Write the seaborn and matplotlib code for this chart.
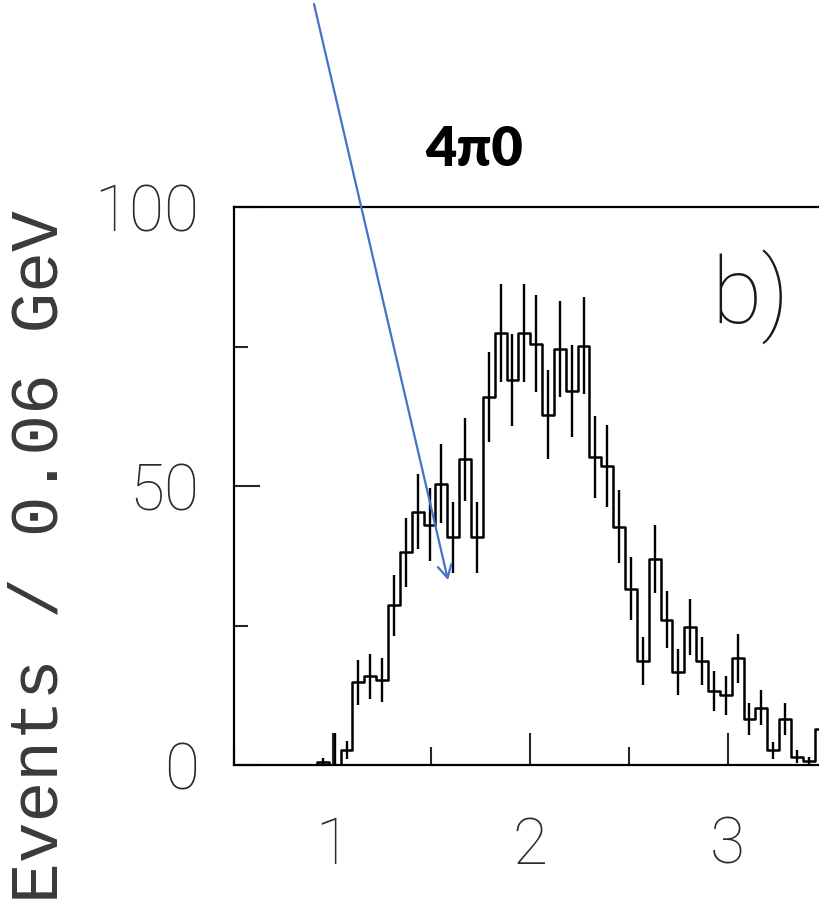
import numpy as np
import pandas as pd
import matplotlib
matplotlib.use("Agg")
import matplotlib.pyplot as plt
from matplotlib.ticker import MultipleLocator, FixedLocator
import seaborn as sns

# Histogram binning (GeV)
bin_start = 0.5
bin_width = 0.06

# Events per 0.06 GeV bin
counts = [0, 0, 0, 0, 0, 0, 0, 0.5, 0, 2.7,
          14.8, 15.9, 15.2, 28.6, 38.1, 45.4, 43.1, 50.4, 40.8, 54.8,
          40.8, 66.0, 77.4, 69.0, 77.4, 75.5, 62.8, 74.6, 67.0, 75.1,
          55.2, 53.6, 42.7, 31.6, 18.6, 36.9, 26.0, 16.6, 24.8, 18.6,
          13.3, 12.5, 19.1, 8.2, 10.3, 2.6, 8.2, 1.5, 0.7, 6.4]

# Statistical uncertainty per bin
errors = [0, 0, 0, 0, 0, 0, 0, 0.7, 5.8, 1.6,
          4.0, 4.0, 3.9, 5.4, 6.2, 6.7, 6.6, 7.1, 6.4, 7.4,
          6.4, 8.1, 8.8, 8.3, 8.8, 8.7, 7.9, 8.6, 8.2, 8.7,
          7.4, 7.3, 6.5, 5.6, 4.3, 6.1, 5.1, 4.1, 5.0, 4.3,
          3.6, 3.5, 4.4, 2.9, 3.2, 1.6, 2.9, 1.2, 0.8, 2.5]

x_ticks = [1, 2, 3]
y_ticks = [0, 50, 100]
y_label = "Events / 0.06 GeV"
panel_tag = "b)"
channel = "4\u03c00"

sns.set_style("ticks")
plt.rcParams["font.family"] = ["Roboto", "DejaVu Sans"]

W, H = 820, 911
fig = plt.figure(figsize=(W / 100, H / 100), dpi=100)

# axes frame in pixel units: left 234, bottom 765, top 207; right edge runs past the canvas
left_px, bottom_px, top_px = 234, 765, 207
n_bins = len(counts)
right_px = left_px + n_bins * bin_width * 197.5
ax = fig.add_axes([left_px / W, 1 - bottom_px / H,
                   (right_px - left_px) / W, (bottom_px - top_px) / H])

edges = [bin_start + bin_width * i for i in range(n_bins + 1)]
centers = [0.5 * (edges[i] + edges[i + 1]) for i in range(n_bins)]
df = pd.DataFrame({"mass": centers, "events": counts, "err": errors})

sns.histplot(data=df, x="mass", weights="events", bins=edges,
             element="step", fill=False, color="black", linewidth=1.8, ax=ax)
ax.errorbar(df["mass"], df["events"], yerr=df["err"], fmt="none",
            ecolor="black", elinewidth=1.7, capsize=0)

ax.set_xlim(edges[0], edges[-1])
ax.set_ylim(0, 100)
ax.set_xlabel("")
ax.set_ylabel("")

ax.xaxis.set_major_locator(FixedLocator(x_ticks))
ax.xaxis.set_minor_locator(MultipleLocator(0.5))
ax.yaxis.set_major_locator(FixedLocator(y_ticks))
ax.yaxis.set_minor_locator(MultipleLocator(25))

thin_font = dict(family=["Roboto", "DejaVu Sans"], fontweight="light")
ax.set_xticklabels([str(v) for v in x_ticks], fontsize=46, color="#2a2a2a", **thin_font)
ax.set_yticklabels([str(v) for v in y_ticks], fontsize=46, color="#2a2a2a", **thin_font)

ax.tick_params(axis="x", which="major", direction="in", length=23, width=1.5, pad=36)
ax.tick_params(axis="x", which="minor", direction="in", length=13, width=1.5)
ax.tick_params(axis="y", which="major", direction="in", length=19, width=1.5, pad=25)
ax.tick_params(axis="y", which="minor", direction="in", length=10, width=1.5)
ax.tick_params(top=False, right=False, which="both")

for side in ["left", "bottom", "top", "right"]:
    ax.spines[side].set_visible(True)
    ax.spines[side].set_linewidth(1.6)
    ax.spines[side].set_color("black")

# panel tag
ax.text(0.805, 0.84, panel_tag, transform=ax.transAxes, fontsize=66,
        color="#1a1a1a", ha="left", va="center", **thin_font)

# vertical axis title
fig.text(40 / W, 1 - 557 / H, y_label, rotation=90, ha="center", va="center",
         fontsize=49, color="#3a3a3a", family=["Liberation Mono", "DejaVu Sans Mono"])

# channel label and pointer arrow
fig.text(474 / W, 1 - 150 / H, channel, ha="center", va="center",
         fontsize=39, fontweight="heavy", color="black",
         family=["Lato", "Open Sans", "DejaVu Sans"])

fig.add_artist(matplotlib.patches.FancyArrowPatch(
    posA=(314 / W, 1 - 4 / H), posB=(448 / W, 1 - 580 / H),
    transform=fig.transFigure, arrowstyle="->,head_length=9,head_width=5",
    color="#4472C4", linewidth=1.6, shrinkA=0, shrinkB=0))

fig.savefig("out.png", dpi=100)
